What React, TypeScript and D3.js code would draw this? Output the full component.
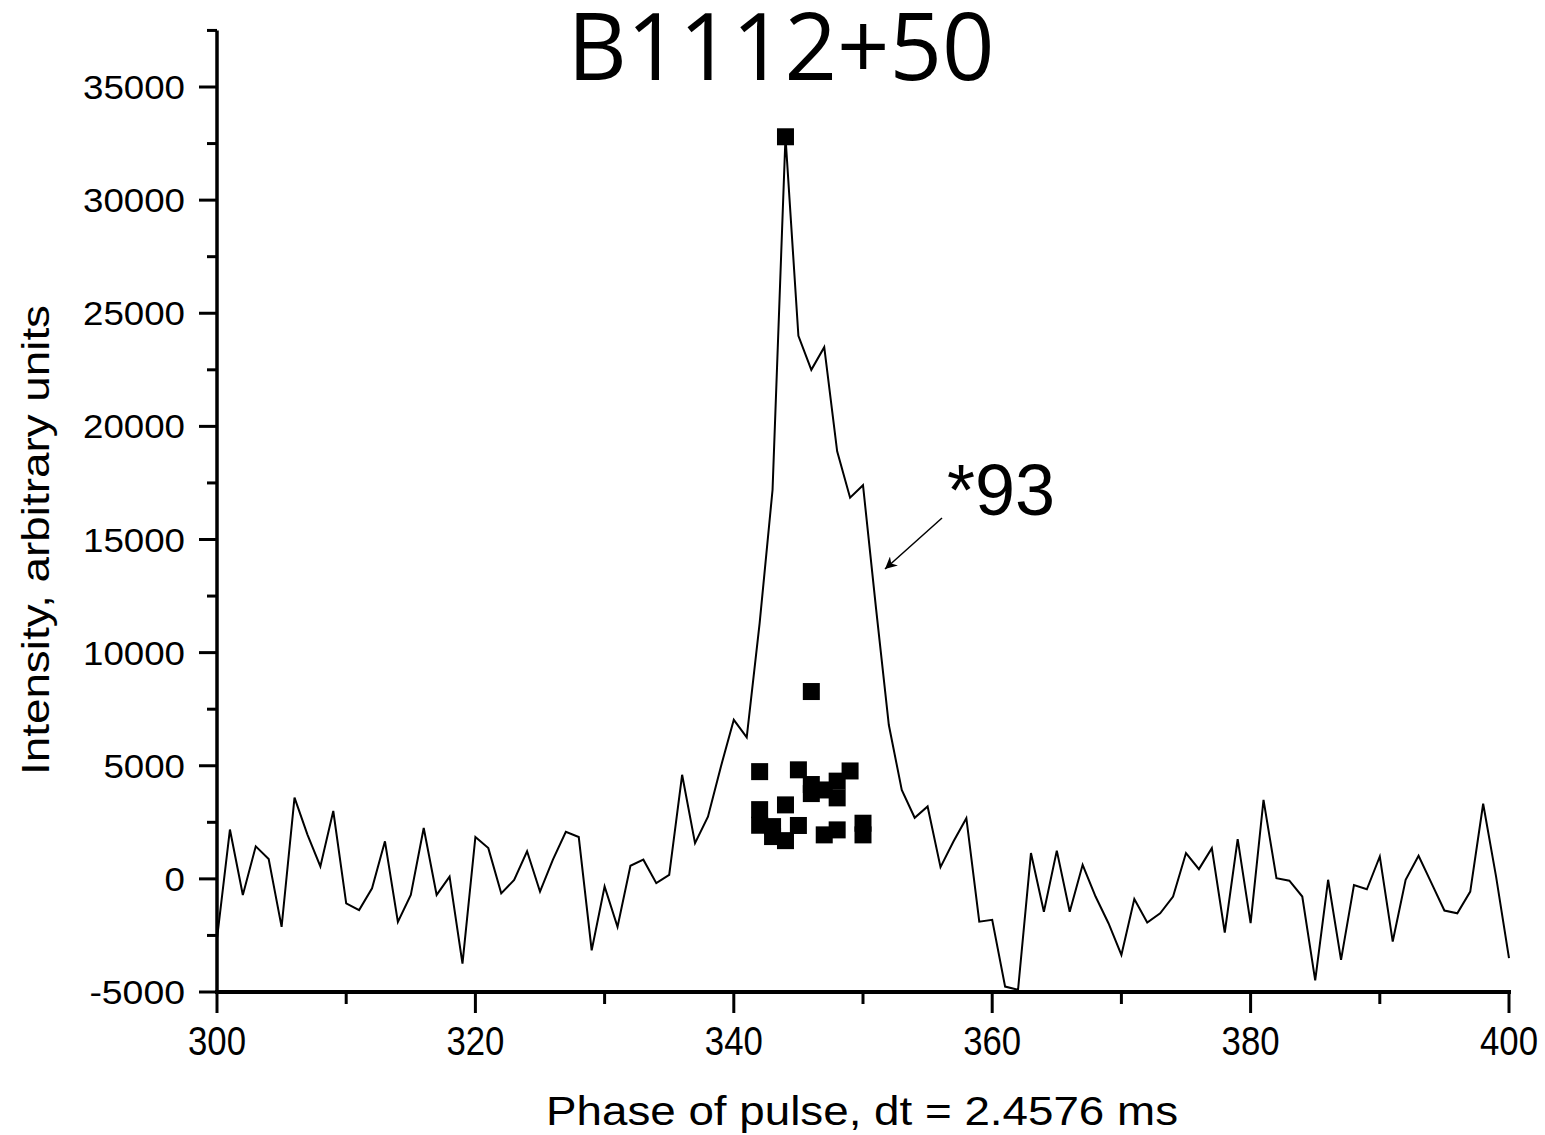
import React, { useEffect, useRef } from 'react';
import * as d3 from 'd3';

// pulse profile, one sample per phase bin 300..400
const phases = d3.range(300, 401);
const intensity = [
  -2640, 2180, -710, 1440, 880, -2120, 3590, 1960, 550, 3000,
  -1080, -1380, -420, 1660, -1900, -710, 2250, -710, 100, -3750,
  1850, 1360, -640, -50, 1220, -560, 850, 2080, 1850, -3160,
  -340, -2120, 580, 850, -190, 180, 4600, 1580, 2750, 4960,
  7030, 6260, 11300, 17200, 32800, 24000, 22500, 23500, 18900, 16850,
  17400, 12000, 6800, 3930, 2700, 3200, 520, 1650, 2680, -1890,
  -1810, -4760, -4900, 1140, -1450, 1250, -1450, 620, -780, -1960,
  -3360, -890, -1930, -1520, -780, 1140, 430, 1360, -2370, 1760,
  -1960, 3490, 30, -80, -780, -4490, -40, -3580, -270, -460,
  990, -2770, -40, 1020, -190, -1400, -1520, -560, 3320, 100,
  -3500,
];

// individual pulses (square markers)
const dotPhase = [344, 346, 342, 345, 349, 346, 346, 347, 348, 348, 344, 342, 342, 343, 343, 344, 345, 347, 348, 350, 350];
const dotIntensity = [32800, 8280, 4740, 4820, 4770, 4170, 3770, 3930, 4320, 3580, 3270, 3060, 2370, 2310, 1870, 1690, 2360, 1945, 2165, 2460, 1945];

const xTicks = [300, 320, 340, 360, 380, 400];
const xMinor = [310, 330, 350, 370, 390];
const yTicks = [-5000, 0, 5000, 10000, 15000, 20000, 25000, 30000, 35000];
const yMinor = [-2500, 2500, 7500, 12500, 17500, 22500, 27500, 32500, 37500];

const FONT = '"Liberation Sans", Arial, sans-serif';

export default function App() {
  const svgRef = useRef<SVGSVGElement>(null);
  const W = 1545, H = 1135;

  useEffect(() => {
    const svg = d3.select(svgRef.current);
    svg.selectAll('*').remove();

    const x = d3.scaleLinear().domain([300, 400]).range([217, 1509]);
    const y = d3.scaleLinear().domain([-5000, 35000]).range([992, 87]);
    const yTop = y(37500);

    // Arrow marker
    svg.append('defs').append('marker')
      .attr('id', 'arr').attr('markerUnits', 'userSpaceOnUse')
      .attr('viewBox', '0 0 10 10').attr('refX', 10).attr('refY', 5)
      .attr('markerWidth', 18).attr('markerHeight', 12).attr('orient', 'auto')
      .append('path').attr('d', 'M0,0 L10,5 L0,10 L3,5 Z').attr('fill', '#000');

    // Data line
    const line = d3.line<number>().x((d, i) => x(phases[i])).y(d => y(d));
    svg.append('path').datum(intensity)
      .attr('d', line).attr('fill', 'none').attr('stroke', '#000')
      .attr('stroke-width', 2).attr('stroke-linejoin', 'miter');

    // Square markers
    const S = 17;
    svg.append('g').selectAll('rect').data(dotPhase).join('rect')
      .attr('x', (d) => x(d) - S / 2)
      .attr('y', (d, i) => y(dotIntensity[i]) - S / 2)
      .attr('width', S).attr('height', S).attr('fill', '#000');

    // Y axis
    svg.append('line').attr('x1', 217).attr('x2', 217).attr('y1', yTop).attr('y2', y(-5000) + 2)
      .attr('stroke', '#000').attr('stroke-width', 3.5);
    svg.append('g').selectAll('line').data(yTicks).join('line')
      .attr('x1', 199).attr('x2', 217).attr('y1', d => y(d)).attr('y2', d => y(d))
      .attr('stroke', '#000').attr('stroke-width', 3);
    svg.append('g').selectAll('line').data(yMinor).join('line')
      .attr('x1', 207).attr('x2', 217).attr('y1', d => y(d)).attr('y2', d => y(d))
      .attr('stroke', '#000').attr('stroke-width', 3);
    svg.append('g').selectAll('text').data(yTicks).join('text')
      .attr('x', 185).attr('y', d => y(d) + 12)
      .attr('text-anchor', 'end').attr('font-family', FONT).attr('font-size', 34).attr('fill', '#000')
      .attr('textLength', d => String(d).replace('-', '').length * 20.4 + (d < 0 ? 14 : 0))
      .attr('lengthAdjust', 'spacingAndGlyphs')
      .text(d => String(d));

    // X axis
    svg.append('line').attr('x1', 215).attr('x2', 1511).attr('y1', 992).attr('y2', 992)
      .attr('stroke', '#000').attr('stroke-width', 4);
    svg.append('g').selectAll('line').data(xTicks).join('line')
      .attr('x1', d => x(d)).attr('x2', d => x(d)).attr('y1', 992).attr('y2', 1013)
      .attr('stroke', '#000').attr('stroke-width', 3);
    svg.append('g').selectAll('line').data(xMinor).join('line')
      .attr('x1', d => x(d)).attr('x2', d => x(d)).attr('y1', 992).attr('y2', 1004)
      .attr('stroke', '#000').attr('stroke-width', 3);
    svg.append('g').selectAll('text').data(xTicks).join('text')
      .attr('x', d => x(d)).attr('y', 1055)
      .attr('text-anchor', 'middle').attr('font-family', FONT).attr('font-size', 41).attr('fill', '#000')
      .attr('textLength', 58).attr('lengthAdjust', 'spacingAndGlyphs')
      .text(d => String(d));

    // Axis titles
    svg.append('text').attr('x', 862).attr('y', 1125)
      .attr('text-anchor', 'middle').attr('font-family', FONT).attr('font-size', 40).attr('fill', '#000')
      .attr('textLength', 632).attr('lengthAdjust', 'spacingAndGlyphs')
      .text('Phase of pulse, dt = 2.4576 ms');
    svg.append('text').attr('transform', 'translate(49,540) rotate(-90)')
      .attr('text-anchor', 'middle').attr('font-family', FONT).attr('font-size', 39).attr('fill', '#000')
      .attr('textLength', 470).attr('lengthAdjust', 'spacingAndGlyphs')
      .text('Intensity, arbitrary units');

    // Title
    svg.append('text').attr('x', 781).attr('y', 80)
      .attr('text-anchor', 'middle').attr('font-family', '"Open Sans", "Noto Sans", sans-serif')
      .attr('font-size', 94).attr('fill', '#000')
      .attr('textLength', 427).attr('lengthAdjust', 'spacingAndGlyphs')
      .text('B1112+50');

    // Scale annotation
    svg.append('text').attr('x', 947).attr('y', 515)
      .attr('font-family', FONT).attr('font-size', 72).attr('fill', '#000')
      .text('*93');
    svg.append('line').attr('x1', 942).attr('y1', 518).attr('x2', 885).attr('y2', 569)
      .attr('stroke', '#000').attr('stroke-width', 1.5).attr('marker-end', 'url(#arr)');
  }, []);

  return (
    <svg ref={svgRef} width={W} height={H}
      style={{ position: 'absolute', left: 0, top: 0, background: '#fff' }} />
  );
}
